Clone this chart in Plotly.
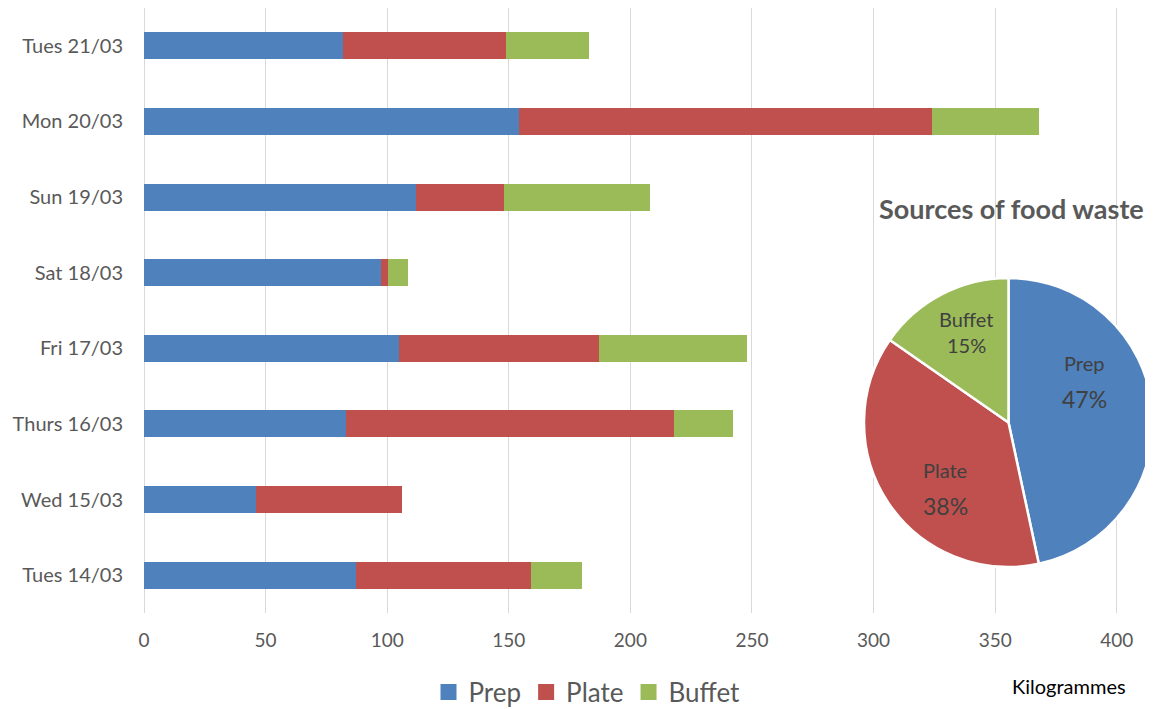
import plotly.graph_objects as go

days = ["Tues 14/03", "Wed 15/03", "Thurs 16/03", "Fri 17/03",
        "Sat 18/03", "Sun 19/03", "Mon 20/03", "Tues 21/03"]
prep = [87, 46, 83, 105, 97.5, 112, 154, 82]
plate = [72, 60, 135, 82, 3, 36, 170, 67]
buffet = [21, 0, 24, 61, 8, 60, 44, 34]

series = ["Prep", "Plate", "Buffet"]
colors = ["#4F81BD", "#C0504D", "#9BBB59"]
x_ticks = [0, 50, 100, 150, 200, 250, 300, 350, 400]

FONT = "Lato, 'Open Sans', sans-serif"

# page body has an 8px margin; screen coords -> paper coords
L, T, W, H = 144, 8, 1009, 605
def px(sx):
    return (sx - L) / W
def py(sy):
    return (T + H - sy) / H

fig = go.Figure()
for name, vals, col in zip(series, [prep, plate, buffet], colors):
    fig.add_trace(go.Bar(
        y=days, x=vals, name=name, orientation="h", showlegend=False,
        marker=dict(color=col, line=dict(width=0)),
    ))
    # legend entry with a larger square swatch
    fig.add_trace(go.Scatter(
        x=[None], y=[None], mode="markers", name=name,
        marker=dict(symbol="square", size=17, color=col),
    ))

totals = [sum(prep), sum(plate), sum(buffet)]
grand = sum(totals)
fig.add_trace(go.Pie(
    labels=series, values=totals, sort=False, direction="clockwise",
    rotation=0, showlegend=False, textinfo="none",
    marker=dict(colors=colors, line=dict(color="white", width=2.5)),
    domain=dict(x=[px(864), 1.0], y=[py(568), py(277)]),
    hoverinfo="label+percent",
))

label_pos = {"Prep": [(1084, 363), (1084, 399)],
             "Plate": [(945, 470), (945, 506)],
             "Buffet": [(966, 319), (966, 345)]}
pct_size = {"Prep": 23, "Plate": 23, "Buffet": 20}
annotations = []
for name, tot in zip(series, totals):
    (lx, ly), (qx, qy) = label_pos[name]
    annotations.append(dict(text=name, xref="paper", yref="paper",
                            x=px(lx), y=py(ly), showarrow=False,
                            xanchor="center", yanchor="middle",
                            font=dict(size=20, color="#404040")))
    annotations.append(dict(text=f"{round(100 * tot / grand)}%", xref="paper",
                            yref="paper", x=px(qx), y=py(qy), showarrow=False,
                            xanchor="center", yanchor="middle",
                            font=dict(size=pct_size[name], color="#404040")))

annotations.append(dict(text="<b>Sources of food waste</b>", xref="paper",
                        yref="paper", x=px(1011), y=py(208), xanchor="center",
                        yanchor="middle", showarrow=False,
                        font=dict(size=27, color="#595959")))
annotations.append(dict(text="Kilogrammes", xref="paper", yref="paper",
                        x=px(1069), y=py(686), xanchor="center",
                        yanchor="middle", showarrow=False,
                        font=dict(size=20, color="#000000")))

fig.update_layout(
    width=1145, height=701,
    barmode="stack", bargap=0.643,
    plot_bgcolor="white", paper_bgcolor="white",
    margin=dict(l=136, r=0, t=0, b=96, autoexpand=False),
    font=dict(family=FONT, color="#595959", size=19),
    xaxis=dict(range=[0, 414.9], tickvals=x_ticks, showgrid=True,
               gridcolor="#D9D9D9", gridwidth=1, zeroline=True,
               zerolinecolor="#D9D9D9", zerolinewidth=1, showline=False,
               ticks="", ticklabelstandoff=14, automargin=False,
               tickfont=dict(size=19, color="#595959")),
    yaxis=dict(categoryorder="array", categoryarray=days, showgrid=False,
               ticks="", ticklabelstandoff=20, showline=False,
               automargin=False,
               tickfont=dict(size=20, color="#595959")),
    legend=dict(orientation="h", x=px(587), xanchor="center", y=py(692),
                yanchor="middle", font=dict(size=26, color="#595959"),
                traceorder="normal", itemwidth=30),
    annotations=annotations,
)

fig.write_html("out.html")
